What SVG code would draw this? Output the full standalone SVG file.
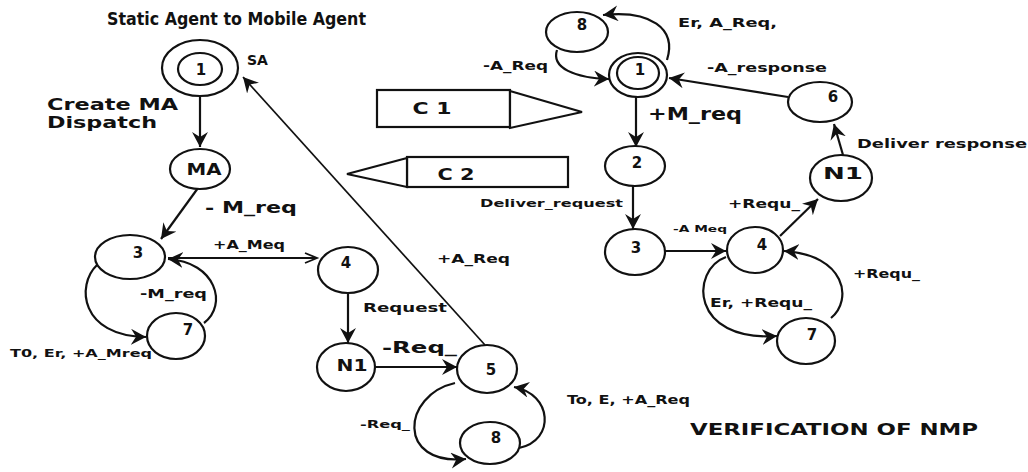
<svg xmlns="http://www.w3.org/2000/svg" width="1028" height="472" viewBox="0 0 1028 472">
<style>
text{font-family:"DejaVu Sans","Liberation Sans",sans-serif;font-weight:bold;fill:#111}
.n{fill:#fff;stroke:#111;stroke-width:2.2}
.c{text-anchor:middle;font-size:15px}
.e{fill:none;stroke:#111;stroke-width:2.2}
.t{fill:none;stroke:#111;stroke-width:1.7}
</style>
<defs>
<marker id="ah" markerUnits="userSpaceOnUse" markerWidth="18" markerHeight="18" refX="15" refY="8" orient="auto" viewBox="0 0 18 18">
<path d="M0,0 L15,8 L0,16 L5,8 Z" fill="#111"/>
</marker>
<marker id="ao" markerUnits="userSpaceOnUse" markerWidth="16" markerHeight="14" refX="13" refY="6" orient="auto" viewBox="0 0 16 14">
<path d="M1,1 L13,6 L1,11" fill="none" stroke="#111" stroke-width="1.8"/>
</marker>
</defs>
<rect width="1028" height="472" fill="#fff"/>

<text x="107" y="25" font-size="17" textLength="259" lengthAdjust="spacingAndGlyphs">Static Agent to Mobile Agent</text>
<text x="690" y="435" font-size="16" textLength="288" lengthAdjust="spacingAndGlyphs">VERIFICATION OF NMP</text>

<g id="connectors">
<line class="e" x1="200" y1="97" x2="200" y2="147" marker-end="url(#ah)"/>
<line class="e" x1="198" y1="188" x2="161" y2="239" marker-end="url(#ah)"/>
<line class="e" x1="168" y1="258" x2="317" y2="258" marker-end="url(#ao)"/>
<path class="e" d="M97,265 C76,285 80,336 146,337" marker-end="url(#ah)"/>
<path class="e" d="M204,323 C228,305 216,262 168,259" marker-end="url(#ah)"/>
<line class="e" x1="348" y1="293" x2="348" y2="343" marker-end="url(#ah)"/>
<line class="e" x1="375" y1="367" x2="457" y2="367" marker-end="url(#ah)"/>
<line class="t" x1="485" y1="345" x2="243" y2="77" marker-end="url(#ah)"/>
<path class="e" d="M455,383 C402,395 396,466 466,459" marker-end="url(#ah)"/>
<path class="e" d="M519,448 C556,440 552,394 514,387" marker-end="url(#ah)"/>

<path class="e" d="M557,50 C551,68 575,78 609,79" marker-end="url(#ah)"/>
<path class="e" d="M667,60 C677,28 650,10 603,15" marker-end="url(#ah)"/>
<line class="e" x1="788" y1="97" x2="669" y2="78" marker-end="url(#ah)"/>
<line class="e" x1="843" y1="155" x2="834" y2="124" marker-end="url(#ah)"/>
<line class="e" x1="636" y1="97" x2="636" y2="147" marker-end="url(#ah)"/>
<line class="e" x1="633" y1="186" x2="633" y2="229" marker-end="url(#ah)"/>
<line class="e" x1="665" y1="251" x2="726" y2="251" marker-end="url(#ah)"/>
<line class="e" x1="780" y1="236" x2="818" y2="199" marker-end="url(#ah)"/>
<path class="e" d="M726,257 C690,270 690,342 777,336" marker-end="url(#ah)"/>
<path class="e" d="M831,318 C853,300 846,255 784,251" marker-end="url(#ah)"/>
</g>

<g id="labels">
<text x="247" y="65" font-size="14">SA</text>
<text x="47" y="110" font-size="16" textLength="131" lengthAdjust="spacingAndGlyphs">Create MA</text>
<text x="47" y="128" font-size="16" textLength="110" lengthAdjust="spacingAndGlyphs">Dispatch</text>
<text x="205" y="213" font-size="16" textLength="92" lengthAdjust="spacingAndGlyphs">- M_req</text>
<text x="213" y="249" font-size="13" textLength="72" lengthAdjust="spacingAndGlyphs">+A_Meq</text>
<text x="140" y="298" font-size="13" textLength="67" lengthAdjust="spacingAndGlyphs">-M_req</text>
<text x="10" y="357" font-size="11" textLength="142" lengthAdjust="spacingAndGlyphs">T0, Er, +A_Mreq</text>
<text x="363" y="312" font-size="12" textLength="84" lengthAdjust="spacingAndGlyphs">Request</text>
<text x="382" y="353" font-size="15" textLength="75" lengthAdjust="spacingAndGlyphs">-Req_</text>
<text x="437" y="263" font-size="12" textLength="73" lengthAdjust="spacingAndGlyphs">+A_Req</text>
<text x="360" y="428" font-size="11" textLength="50" lengthAdjust="spacingAndGlyphs">-Req_</text>
<text x="567" y="404" font-size="12" textLength="123" lengthAdjust="spacingAndGlyphs">To, E, +A_Req</text>

<text x="483" y="70" font-size="12" textLength="65" lengthAdjust="spacingAndGlyphs">-A_Req</text>
<text x="678" y="27" font-size="12" textLength="99" lengthAdjust="spacingAndGlyphs">Er, A_Req,</text>
<text x="707" y="72" font-size="13" textLength="120" lengthAdjust="spacingAndGlyphs">-A_response</text>
<text x="648" y="120" font-size="17" textLength="94" lengthAdjust="spacingAndGlyphs">+M_req</text>
<text x="857" y="148" font-size="13" textLength="170" lengthAdjust="spacingAndGlyphs">Deliver response</text>
<text x="480" y="207" font-size="11" textLength="143" lengthAdjust="spacingAndGlyphs">Deliver_request</text>
<text x="673" y="232" font-size="9" textLength="54" lengthAdjust="spacingAndGlyphs">-A Meq</text>
<text x="728" y="208" font-size="13" textLength="72" lengthAdjust="spacingAndGlyphs">+Requ_</text>
<text x="710" y="307" font-size="13" textLength="102" lengthAdjust="spacingAndGlyphs">Er, +Requ_</text>
<text x="853" y="278" font-size="12" textLength="67" lengthAdjust="spacingAndGlyphs">+Requ_</text>
</g>

<g id="C1">
<rect class="n" x="377" y="90" width="133" height="37"/>
<polygon class="n" points="510,91 582,112 510,128"/>
<text x="432" y="114" class="c" font-size="15" textLength="39" lengthAdjust="spacingAndGlyphs">C 1</text>
</g>
<g id="C2">
<rect class="n" x="407" y="157" width="161" height="30"/>
<polygon class="n" points="407,158 347,174 407,187"/>
<text x="456" y="180" class="c" font-size="15" textLength="37" lengthAdjust="spacingAndGlyphs">C 2</text>
</g>

<g id="L-SA">
<ellipse class="n" cx="200" cy="68" rx="38" ry="28"/>
<ellipse class="n" cx="200" cy="69" rx="22" ry="16"/>
<text x="201" y="75" class="c">1</text>
</g>
<g id="L-MA">
<ellipse class="n" cx="200" cy="169" rx="30" ry="20"/>
<text x="204" y="175" class="c" font-size="16" textLength="35" lengthAdjust="spacingAndGlyphs">MA</text>
</g>
<g id="L-3">
<ellipse class="n" cx="130" cy="257" rx="35" ry="22"/>
<text x="138" y="258" class="c">3</text>
</g>
<g id="L-7">
<ellipse class="n" cx="176" cy="336" rx="29" ry="23"/>
<text x="188" y="335" class="c">7</text>
</g>
<g id="L-4">
<ellipse class="n" cx="348" cy="270" rx="30" ry="23"/>
<text x="346" y="268" class="c">4</text>
</g>
<g id="L-N1">
<ellipse class="n" cx="346" cy="367" rx="29" ry="24"/>
<text x="352" y="371" class="c" font-size="16" textLength="31" lengthAdjust="spacingAndGlyphs">N1</text>
</g>
<g id="L-5">
<ellipse class="n" cx="487" cy="369" rx="30" ry="24"/>
<text x="491" y="375" class="c">5</text>
</g>
<g id="L-8">
<ellipse class="n" cx="490" cy="443" rx="30" ry="21"/>
<text x="496" y="443" class="c">8</text>
</g>

<g id="R-1">
<ellipse class="n" cx="638" cy="75" rx="29" ry="22"/>
<ellipse class="n" cx="638" cy="73" rx="21" ry="16"/>
<text x="640" y="75" class="c">1</text>
</g>
<g id="R-8">
<ellipse class="n" cx="577" cy="32" rx="31" ry="20"/>
<text x="582" y="30" class="c">8</text>
</g>
<g id="R-6">
<ellipse class="n" cx="820" cy="102" rx="32" ry="20"/>
<text x="833" y="102" class="c">6</text>
</g>
<g id="R-N1">
<ellipse class="n" cx="841" cy="178" rx="31" ry="23"/>
<text x="843" y="179" class="c" font-size="16" textLength="40" lengthAdjust="spacingAndGlyphs">N1</text>
</g>
<g id="R-2">
<ellipse class="n" cx="635" cy="166" rx="30" ry="20"/>
<text x="637" y="168" class="c">2</text>
</g>
<g id="R-3">
<ellipse class="n" cx="635" cy="252" rx="30" ry="23"/>
<text x="636" y="253" class="c">3</text>
</g>
<g id="R-4">
<ellipse class="n" cx="755" cy="250" rx="28" ry="23"/>
<text x="762" y="250" class="c">4</text>
</g>
<g id="R-7">
<ellipse class="n" cx="806" cy="341" rx="29" ry="23"/>
<text x="812" y="340" class="c">7</text>
</g>
</svg>
